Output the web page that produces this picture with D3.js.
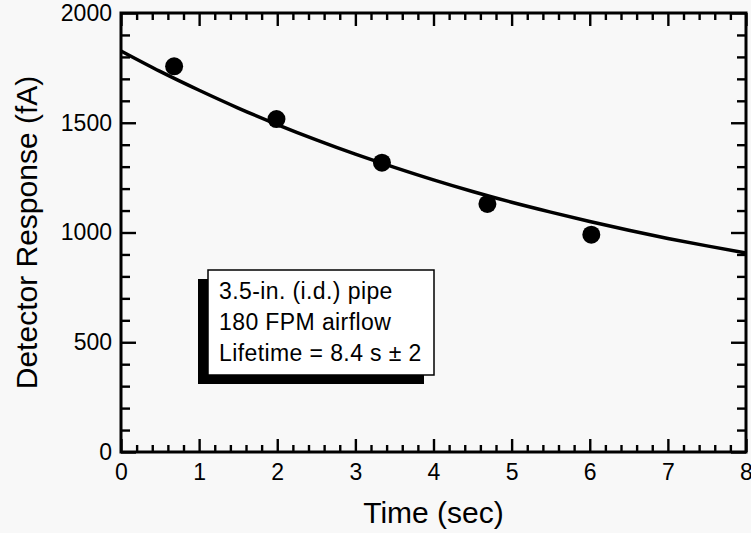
<!DOCTYPE html>
<html>
<head>
<meta charset="utf-8">
<script src="https://cdn.jsdelivr.net/npm/d3@7"></script>
<style>
  body { margin: 0; background: #f8f8f8; }
  svg { display: block; font-family: "Liberation Sans", Arial, sans-serif; }
</style>
</head>
<body>
<div id="okvir"></div>
<script>
// measured points
const vrijeme = [0.68, 1.99, 3.34, 4.69, 6.02]
const odziv = [1757, 1517, 1318, 1130, 990]

// fitted curve
const krivuljaT = [0, 0.5, 1, 1.5, 2, 2.5, 3, 3.5, 4, 4.5, 5, 5.5, 6, 6.5, 7, 7.5, 8]
const krivuljaV = [1827, 1734, 1648, 1567, 1492, 1422, 1357, 1297, 1240, 1187, 1138, 1093, 1050, 1010, 973, 939, 907]

const xOznake = [0, 1, 2, 3, 4, 5, 6, 7, 8]
const yOznake = [0, 500, 1000, 1500, 2000]

const legenda = ["3.5-in. (i.d.) pipe", "180 FPM airflow", "Lifetime = 8.4 s \u00b1 2"]

const dim = {
  sirina: 751,
  visina: 533,
  margine: { top: 13, right: 5, bottom: 81, left: 121 },
}
dim.grSirina = dim.sirina - dim.margine.left - dim.margine.right
dim.grVisina = dim.visina - dim.margine.top - dim.margine.bottom

const svg = d3.select("#okvir").append("svg")
  .attr("width", dim.sirina)
  .attr("height", dim.visina)

const g = svg.append("g")
  .attr("transform", `translate(${dim.margine.left},${dim.margine.top})`)

const xSkala = d3.scaleLinear().domain([0, 8]).range([0, dim.grSirina])
const ySkala = d3.scaleLinear().domain([0, 2000]).range([dim.grVisina, 0])

const xMinor = d3.range(0, 8.001, 0.2).filter(d => Math.abs(d - Math.round(d)) > 0.01)
const yMinor = d3.range(0, 2001, 100).filter(d => d % 500 !== 0)

// axes with inward ticks
function os(generator, transform, vrijednosti, duljina, oznake) {
  const a = g.append("g")
    .attr("transform", transform)
    .call(generator.tickValues(vrijednosti).tickSize(-duljina).tickPadding(oznake ? 8 : 0)
      .tickFormat(oznake ? d3.format("d") : ""))
  a.select(".domain").remove()
  a.selectAll("line").attr("stroke", "#000").attr("stroke-width", 2.4)
  a.selectAll("text").attr("fill", "#000").style("font-size", "23px")
  return a
}

const dolje = `translate(0,${dim.grVisina})`
const desno = `translate(${dim.grSirina},0)`
os(d3.axisBottom(xSkala), dolje, xMinor, 7, false)
const xOs = os(d3.axisBottom(xSkala), dolje, xOznake, 13, true)
xOs.selectAll("text").attr("dy", "0.71em").attr("y", 12)
os(d3.axisTop(xSkala), "", xMinor, 7, false)
os(d3.axisTop(xSkala), "", xOznake, 13, false)
os(d3.axisLeft(ySkala), "", yMinor, 9, false)
const yOs = os(d3.axisLeft(ySkala), "", yOznake, 15, true)
yOs.selectAll("text").attr("x", -9)
os(d3.axisRight(ySkala), desno, yMinor, 9, false)
os(d3.axisRight(ySkala), desno, yOznake, 15, false)

g.append("rect")
  .attr("width", dim.grSirina)
  .attr("height", dim.grVisina)
  .attr("fill", "none")
  .attr("stroke", "#000")
  .attr("stroke-width", 3)

// curve
const linija = d3.line()
  .x((d, i) => xSkala(krivuljaT[i]))
  .y(d => ySkala(d))
  .curve(d3.curveNatural)

g.append("path")
  .attr("d", linija(krivuljaV))
  .attr("fill", "none")
  .attr("stroke", "#000")
  .attr("stroke-width", 3.5)

g.selectAll(".tocka").data(odziv).join("circle")
  .attr("class", "tocka")
  .attr("cx", (d, i) => xSkala(vrijeme[i]))
  .attr("cy", d => ySkala(d))
  .attr("r", 9)
  .attr("fill", "#000")

// legend box with shadow
const okvirL = { x: 208, y: 270, w: 226, h: 105 }
svg.append("rect")
  .attr("x", okvirL.x - 10).attr("y", okvirL.y + 9)
  .attr("width", okvirL.w).attr("height", okvirL.h)
  .attr("fill", "#000")
svg.append("rect")
  .attr("x", okvirL.x).attr("y", okvirL.y)
  .attr("width", okvirL.w).attr("height", okvirL.h)
  .attr("fill", "#fff").attr("stroke", "#000").attr("stroke-width", 1.5)

svg.selectAll(".leg").data(legenda).join("text")
  .attr("class", "leg")
  .attr("x", okvirL.x + 11)
  .attr("y", (d, i) => 299 + i * 31)
  .style("font-size", "23px")
  .style("letter-spacing", "0.4px")
  .text(d => d)

// axis titles
svg.append("text")
  .attr("x", dim.margine.left + dim.grSirina / 2)
  .attr("y", 523)
  .attr("text-anchor", "middle")
  .style("font-size", "30px")
  .text("Time (sec)")

svg.append("text")
  .attr("transform", `translate(37,${dim.margine.top + dim.grVisina / 2}) rotate(-90)`)
  .attr("text-anchor", "middle")
  .style("font-size", "30px")
  .text("Detector Response (fA)")
</script>
</body>
</html>
